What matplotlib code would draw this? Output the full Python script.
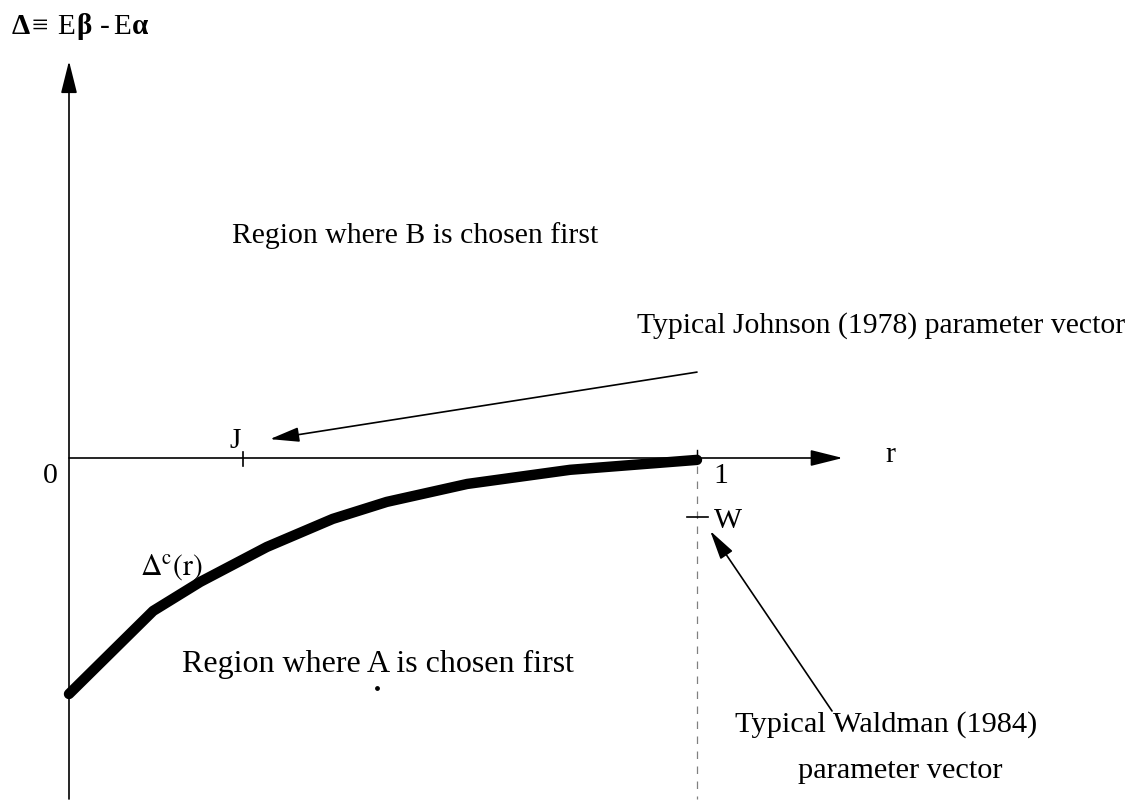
import numpy as np
import matplotlib
matplotlib.use("Agg")
import matplotlib.pyplot as plt

# critical curve Delta^c(r) (Delta scaled so Delta^c(0) = -1)
r_vals = [0.0, 0.134, 0.209, 0.315, 0.420, 0.506, 0.634, 0.798, 1.0]
delta_c = [-1.0, -0.648, -0.525, -0.377, -0.258, -0.186, -0.110, -0.050, -0.008]

# marked parameter vectors
r_J = 0.277
r_W, delta_W = 1.0, -0.25

W, H = 1133, 803
plt.rcParams['font.family'] = ['Liberation Serif', 'DejaVu Serif']
plt.rcParams['mathtext.fontset'] = 'stix'

fig = plt.figure(figsize=(W / 100, H / 100), dpi=100)
ax = fig.add_axes([0, 0, 1, 1])
# pixel mapping: r=0 -> x 69, r=1 -> x 697 ; delta=0 -> y 459, delta=-1 -> y 695
sx, sy = 628.0, 236.0
ax.set_xlim(-69 / sx, (W - 69) / sx)
ax.set_ylim(-(H - 459) / sy, 459 / sy)
ax.axis('off')


def px(x, y):
    return x / W, 1 - y / H


fs = 21.4
arrow_kw = dict(arrowstyle='-|>,head_length=2.0,head_width=0.5', mutation_scale=10,
                lw=1.2, color='black', shrinkA=0, shrinkB=0)
pointer_kw = dict(arrowstyle='-|>,head_length=1.8,head_width=0.45', mutation_scale=10,
                  lw=1.2, color='black', shrinkA=0, shrinkB=0)

# axes with arrows
ax.annotate('', xy=(0, 1.682), xytext=(0, -1.445), arrowprops=arrow_kw)
ax.annotate('', xy=(1.232, 0), xytext=(0, 0), arrowprops=arrow_kw)

# dashed line at r = 1
ax.plot([1.0, 1.0], [0.03, -1.445], color='gray', lw=0.9, ls=(0, (6, 6)))

# ticks J and W
ax.plot([r_J, r_J], [0.025, -0.034], color='black', lw=1.2)
ax.plot([r_W - 0.016, r_W + 0.017], [delta_W, delta_W], color='black', lw=1.2)
ax.plot([1.0, 1.0], [0.035, 0.0], color='black', lw=1.0)

# the curve
ax.plot(r_vals, delta_c, color='black', lw=7.5, solid_capstyle='round', solid_joinstyle='round')

# pointer arrows
ax.annotate('', xy=(0.32, 0.08), xytext=(1.0, 0.364), arrowprops=pointer_kw)
ax.annotate('', xy=(1.021, -0.309), xytext=(1.215, -1.072), arrowprops=pointer_kw)

# stray dot under the A
ax.scatter([0.491], [-0.975], s=6, color='black')

# axis title, built piece by piece (bold greek, regular E)
title_parts = [(12, 'Δ', 'bold'), (32, '≡', 'normal'), (57, 'E', 'normal'), (76, 'β', 'bold'),
               (100, '-', 'normal'), (113, 'E', 'normal'), (132, 'α', 'bold')]
for x0, s, w in title_parts:
    fig.text(*px(x0, 34), s, fontsize=21, fontweight=w, va='baseline', ha='left')

# labels
fig.text(*px(232, 243), 'Region where B is chosen first', fontsize=fs, va='baseline', ha='left')
fig.text(*px(637, 333), 'Typical Johnson (1978) parameter vector', fontsize=fs, va='baseline', ha='left')
fig.text(*px(235, 448), 'J', fontsize=fs, va='baseline', ha='center')
fig.text(*px(50, 483), '0', fontsize=fs, va='baseline', ha='center')
fig.text(*px(721, 483), '1', fontsize=fs, va='baseline', ha='center')
fig.text(*px(890, 462), 'r', fontsize=fs, va='baseline', ha='center')
fig.text(*px(714, 528), 'W', fontsize=fs, va='baseline', ha='left')
fig.text(*px(140, 575), r'$\mathrm{\Delta^{c}(r)}$', fontsize=fs, va='baseline', ha='left')
fig.text(*px(182, 672), 'Region where A is chosen first', fontsize=23, va='baseline', ha='left')
fig.text(*px(886, 732), 'Typical Waldman (1984)', fontsize=21.9, va='baseline', ha='center')
fig.text(*px(900, 778), 'parameter vector', fontsize=21.9, va='baseline', ha='center')

fig.savefig('out.png', dpi=100)
